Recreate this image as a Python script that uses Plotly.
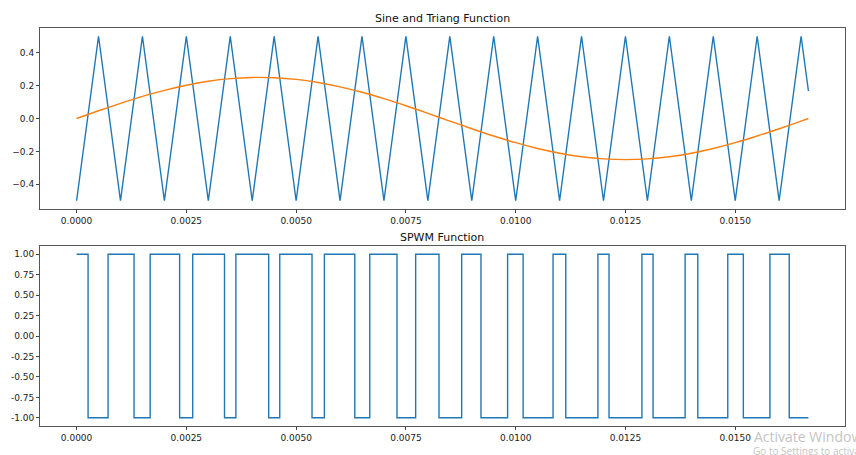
import plotly.graph_objects as go

W, H = 856, 455

# ---- data ----
sine_t = [0.0, 0.0005, 0.001, 0.0015, 0.002, 0.0025, 0.003, 0.0035, 0.004, 0.0045,
          0.005, 0.0055, 0.006, 0.0065, 0.007, 0.0075, 0.008, 0.0085, 0.009, 0.0095,
          0.010, 0.0105, 0.011, 0.0115, 0.012, 0.0125, 0.013, 0.0135, 0.014, 0.0145,
          0.015, 0.0155, 0.016, 0.0165, 0.016667]
sine_v = [0.0, 0.0469, 0.0920, 0.1340, 0.1711, 0.2023, 0.2262, 0.2421, 0.2495, 0.2480,
          0.2378, 0.2191, 0.1926, 0.1594, 0.1204, 0.0773, 0.0313, -0.0157, -0.0622, -0.1064,
          -0.1469, -0.1822, -0.2111, -0.2324, -0.2456, -0.2500, -0.2456, -0.2324, -0.2111, -0.1822,
          -0.1469, -0.1064, -0.0622, -0.0157, 0.0]

tri_t = sine_t
tri_v = [-0.5, 0.5, -0.5, 0.5, -0.5, 0.5, -0.5, 0.5, -0.5, 0.5,
         -0.5, 0.5, -0.5, 0.5, -0.5, 0.5, -0.5, 0.5, -0.5, 0.5,
         -0.5, 0.5, -0.5, 0.5, -0.5, 0.5, -0.5, 0.5, -0.5, 0.5,
         -0.5, 0.5, -0.5, 0.5, 0.167]

spwm_t = [0.0, 0.000262, 0.000717, 0.001309, 0.001676, 0.002347, 0.002645, 0.003369, 0.003628,
          0.004375, 0.004627, 0.005362, 0.005644, 0.006336, 0.006677, 0.007297, 0.007722,
          0.008254, 0.00877, 0.00921, 0.009816, 0.01017, 0.010851, 0.011141, 0.011872,
          0.012126, 0.012875, 0.013129, 0.013859, 0.014148, 0.01483, 0.015185, 0.01579,
          0.01623, 0.016667]
spwm_v = [1, -1, 1, -1, 1, -1, 1, -1, 1, -1, 1, -1, 1, -1, 1, -1, 1,
          -1, 1, -1, 1, -1, 1, -1, 1, -1, 1, -1, 1, -1, 1, -1, 1, -1, -1]

x_ticks = [0.0, 0.0025, 0.005, 0.0075, 0.01, 0.0125, 0.015]
x_ticktext = ["0.0000", "0.0025", "0.0050", "0.0075", "0.0100", "0.0125", "0.0150"]
top_yticks = [-0.4, -0.2, 0.0, 0.2, 0.4]
top_yticktext = ["\u22120.4", "\u22120.2", "0.0", "0.2", "0.4"]
bot_yticks = [-1.0, -0.75, -0.5, -0.25, 0.0, 0.25, 0.5, 0.75, 1.0]
bot_yticktext = ["-1.00", "-0.75", "-0.50", "-0.25", "0.00", "0.25", "0.50", "0.75", "1.00"]

BLUE = "#1f77b4"
ORANGE = "#ff7f0e"
FONT = "DejaVu Sans"

fig = go.Figure()
fig.add_trace(go.Scatter(x=tri_t, y=tri_v, mode="lines", line=dict(color=BLUE, width=1.4),
                         xaxis="x", yaxis="y", showlegend=False))
fig.add_trace(go.Scatter(x=sine_t, y=sine_v, mode="lines", line=dict(color=ORANGE, width=1.4, shape="spline"),
                         xaxis="x", yaxis="y", showlegend=False))
fig.add_trace(go.Scatter(x=spwm_t, y=spwm_v, mode="lines", line=dict(color=BLUE, width=1.4, shape="hv"),
                         xaxis="x2", yaxis="y2", showlegend=False))

xdom = [40 / W, 845 / W]
axis_common = dict(showgrid=False, zeroline=False, showline=True, mirror=True,
                   linecolor="#555555", linewidth=1, ticks="outside", ticklen=3,
                   tickcolor="#444444", tickwidth=0.8,
                   tickfont=dict(family=FONT, size=9, color="#222222"))
xrange = [-0.000833, 0.0175]

fig.update_layout(
    width=W, height=H, margin=dict(l=0, r=0, t=0, b=0),
    paper_bgcolor="white", plot_bgcolor="white",
    xaxis=dict(domain=xdom, anchor="y", range=xrange, tickvals=x_ticks, ticktext=x_ticktext, **axis_common),
    yaxis=dict(domain=[1 - 209 / H, 1 - 28 / H], anchor="x", range=[-0.55, 0.55],
               tickvals=top_yticks, ticktext=top_yticktext, **axis_common),
    xaxis2=dict(domain=xdom, anchor="y2", range=xrange, tickvals=x_ticks, ticktext=x_ticktext, **axis_common),
    yaxis2=dict(domain=[1 - 426 / H, 1 - 246 / H], anchor="x2", range=[-1.1, 1.1],
                tickvals=bot_yticks, ticktext=bot_yticktext, **axis_common),
    annotations=[
        dict(text="Sine and Triang Function", x=442.5 / W, y=1 - 19 / H, xref="paper", yref="paper",
             xanchor="center", yanchor="middle", showarrow=False,
             font=dict(family=FONT, size=11, color="#111111")),
        dict(text="SPWM Function", x=442.5 / W, y=1 - 237 / H, xref="paper", yref="paper",
             xanchor="center", yanchor="middle", showarrow=False,
             font=dict(family=FONT, size=11, color="#111111")),
        dict(text="Activate Windows", x=752 / W, y=1 - 436 / H, xref="paper", yref="paper",
             xanchor="left", yanchor="middle", showarrow=False,
             font=dict(family="Open Sans", size=14, color="#c4c4c4")),
        dict(text="Go to Settings to activate Windows.", x=751 / W, y=1 - 451 / H, xref="paper", yref="paper",
             xanchor="left", yanchor="middle", showarrow=False,
             font=dict(family="Open Sans", size=10, color="#c4c4c4")),
    ],
)

fig.write_html("out.html")
